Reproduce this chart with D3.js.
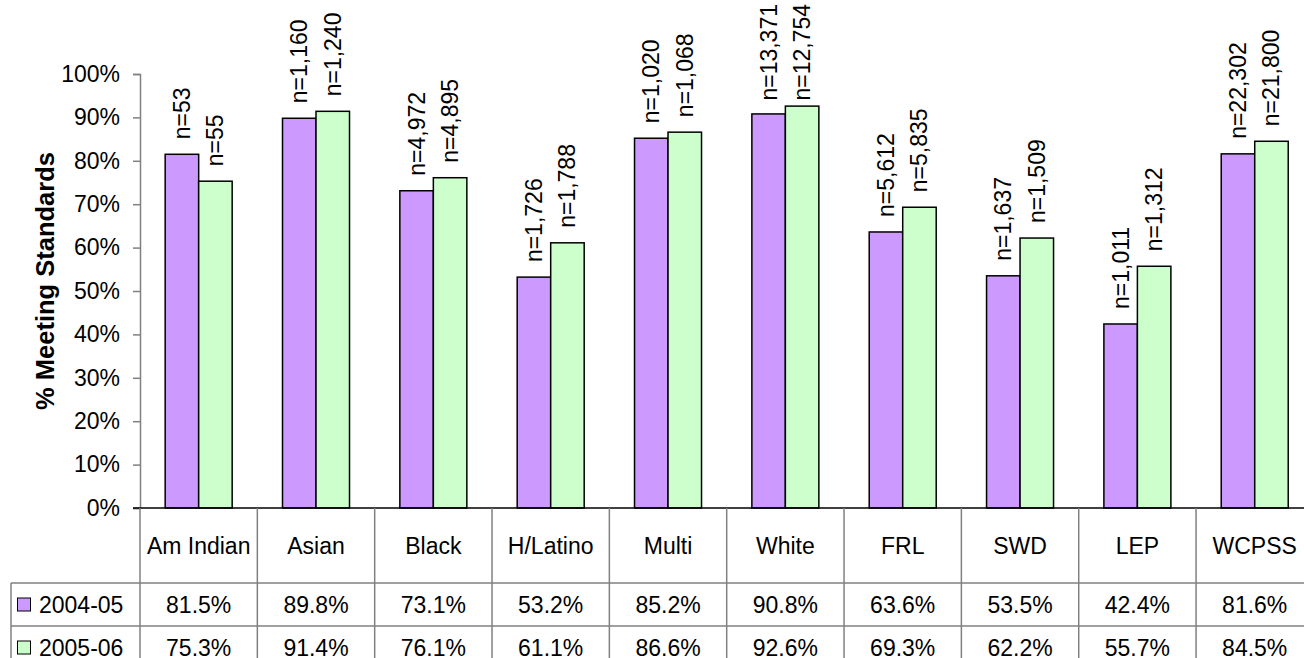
<!DOCTYPE html>
<html>
<head>
<meta charset="utf-8">
<script src="https://cdn.jsdelivr.net/npm/d3@7"></script>
<style>
  html, body { margin: 0; padding: 0; background: #fff; overflow: hidden; }
  svg { display: block; font-family: Arial, "Liberation Sans", sans-serif; }
</style>
</head>
<body>
<svg id="chart" width="1304" height="658"></svg>
<script>
// Student groups shown along the category axis
const categories = ["Am Indian", "Asian", "Black", "H/Latino", "Multi", "White", "FRL", "SWD", "LEP", "WCPSS"];
// School years (series)
const years = ["2004-05", "2005-06"];
// Percent meeting standards per group, by year
const pct0405 = [81.5, 89.8, 73.1, 53.2, 85.2, 90.8, 63.6, 53.5, 42.4, 81.6];
const pct0506 = [75.3, 91.4, 76.1, 61.1, 86.6, 92.6, 69.3, 62.2, 55.7, 84.5];
// Number of students tested per group, by year
const n0405 = ["53", "1,160", "4,972", "1,726", "1,020", "13,371", "5,612", "1,637", "1,011", "22,302"];
const n0506 = ["55", "1,240", "4,895", "1,788", "1,068", "12,754", "5,835", "1,509", "1,312", "21,800"];
// Y axis tick values (percent)
const yTicks = [0, 10, 20, 30, 40, 50, 60, 70, 80, 90, 100];

const colors = ["#CC99FF", "#CCFFCC"];
const seriesValues = [pct0405, pct0506];
const seriesN = [n0405, n0506];

const svg = d3.select("#chart");
const plotLeft = 140, plotRight = 1313.4, plotTop = 74, plotBottom = 508;
const rowCat = 583, row1 = 626;
const fontSize = 23;

const x0 = d3.scaleBand().domain(categories).range([plotLeft, plotRight]).padding(0);
const groupW = 67;
const offset = (x0.bandwidth() - groupW) / 2;
const x1 = d3.scaleBand().domain(years).range([offset, offset + groupW]).padding(0);
const y = d3.scaleLinear().domain([0, 100]).range([plotBottom, plotTop]);

// Y axis
const yAxis = d3.axisLeft(y).tickValues(yTicks).tickSize(7).tickPadding(13)
  .tickFormat(d => d + "%");
const gy = svg.append("g").attr("transform", `translate(${plotLeft},0)`).call(yAxis);
gy.select(".domain").attr("stroke", "#808080").attr("stroke-width", 1.5);
gy.selectAll(".tick line").attr("stroke", "#808080").attr("stroke-width", 1.5);
gy.selectAll(".tick text").attr("font-size", fontSize).attr("fill", "#000")
  .attr("font-family", "Arial, 'Liberation Sans', sans-serif");

// Axis title
svg.append("text")
  .attr("transform", "translate(53.5,281) rotate(-90)")
  .attr("text-anchor", "middle")
  .attr("font-size", 25.5).attr("font-weight", "bold")
  .text("% Meeting Standards");

// Bars
const groups = svg.append("g").selectAll("g")
  .data(categories)
  .join("g")
  .attr("transform", d => `translate(${x0(d)},0)`);

groups.selectAll("rect")
  .data((d, i) => years.map((yr, s) => ({ yr, s, v: seriesValues[s][i] })))
  .join("rect")
  .attr("x", d => x1(d.yr))
  .attr("y", d => y(d.v))
  .attr("width", x1.bandwidth())
  .attr("height", d => y(0) - y(d.v))
  .attr("fill", d => colors[d.s])
  .attr("stroke", "#000")
  .attr("stroke-width", 1.5);

// Count labels above bars, kept inside the top of the chart
groups.selectAll("text.n")
  .data((d, i) => years.map((yr, s) => ({ yr, s, v: seriesValues[s][i], n: seriesN[s][i] })))
  .join("text")
  .attr("class", "n")
  .attr("font-size", fontSize)
  .attr("text-anchor", "start")
  .text(d => "n=" + d.n)
  .attr("transform", function(d) {
    const len = this.getComputedTextLength();
    const base = Math.max(y(d.v) - 15, 4 + len);
    return `translate(${x1(d.yr) + x1.bandwidth() / 2 + 8},${base}) rotate(-90)`;
  });

// Category axis line
svg.append("line")
  .attr("x1", plotLeft - 7).attr("x2", plotRight)
  .attr("y1", plotBottom).attr("y2", plotBottom)
  .attr("stroke", "#000").attr("stroke-width", 1.5);

// Data table grid
const grid = svg.append("g").attr("stroke", "#808080").attr("stroke-width", 1.5);
x0.domain().forEach(c => {
  grid.append("line").attr("x1", x0(c)).attr("x2", x0(c)).attr("y1", plotBottom).attr("y2", 700);
});
grid.append("line").attr("x1", plotRight).attr("x2", plotRight).attr("y1", plotBottom).attr("y2", 700);
grid.append("line").attr("x1", 11).attr("x2", 11).attr("y1", rowCat).attr("y2", 700);
grid.append("line").attr("x1", 11).attr("x2", plotRight).attr("y1", rowCat).attr("y2", rowCat);
grid.append("line").attr("x1", 11).attr("x2", plotRight).attr("y1", row1).attr("y2", row1);

// Category labels
svg.append("g").selectAll("text")
  .data(categories)
  .join("text")
  .attr("x", d => x0(d) + x0.bandwidth() / 2)
  .attr("y", (plotBottom + rowCat) / 2 + 8)
  .attr("text-anchor", "middle")
  .attr("font-size", fontSize)
  .text(d => d);

// Table rows: legend key and values
const rowTops = [rowCat, row1];
years.forEach((yr, s) => {
  const cy = rowTops[s] + 21.5;
  svg.append("rect")
    .attr("x", 17.5).attr("y", cy - 6.5).attr("width", 13).attr("height", 13)
    .attr("fill", colors[s]).attr("stroke", "#000").attr("stroke-width", 1);
  svg.append("text")
    .attr("x", 39).attr("y", cy + 8)
    .attr("font-size", fontSize)
    .text(yr);
  svg.append("g").selectAll("text")
    .data(categories)
    .join("text")
    .attr("x", d => x0(d) + x0.bandwidth() / 2)
    .attr("y", cy + 8)
    .attr("text-anchor", "middle")
    .attr("font-size", fontSize)
    .text((d, i) => seriesValues[s][i].toFixed(1) + "%");
});
</script>
</body>
</html>
